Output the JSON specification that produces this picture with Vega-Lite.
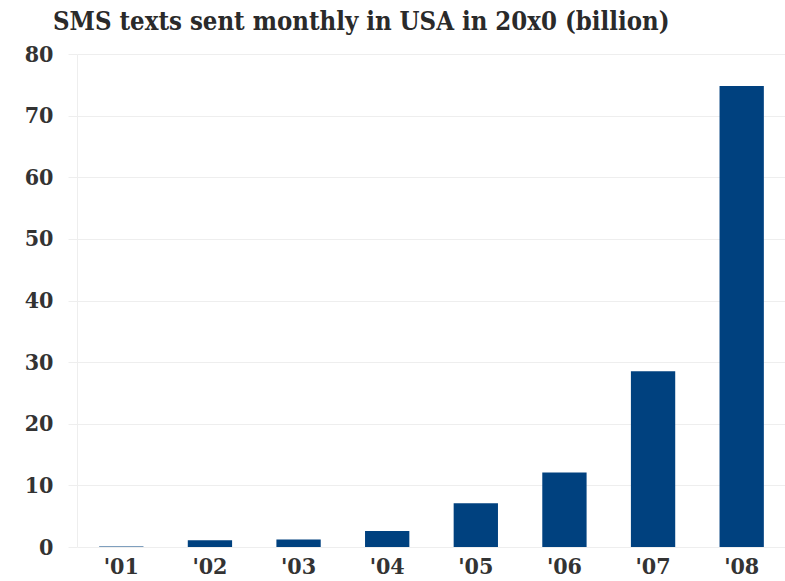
{
  "$schema": "https://vega.github.io/schema/vega-lite/v6.json",
  "width": 709,
  "height": 493,
  "autosize": "none",
  "padding": {"left": 77, "top": 54, "right": 0, "bottom": 34},
  "background": "white",
  "title": {
    "text": "SMS texts sent monthly in USA in 20x0 (billion)",
    "anchor": "start",
    "frame": "group",
    "dx": -24,
    "offset": 8,
    "font": "DejaVu Serif Condensed",
    "fontSize": 25.5,
    "fontWeight": "bold",
    "color": "#2a2a2a"
  },
  "data": {
    "values": [
      {"year": "'01", "texts": 0.1},
      {"year": "'02", "texts": 1.1},
      {"year": "'03", "texts": 1.2},
      {"year": "'04", "texts": 2.6},
      {"year": "'05", "texts": 7.1},
      {"year": "'06", "texts": 12.1},
      {"year": "'07", "texts": 28.5},
      {"year": "'08", "texts": 74.8}
    ]
  },
  "mark": {"type": "bar", "color": "#00417f"},
  "encoding": {
    "x": {
      "field": "year",
      "type": "ordinal",
      "sort": null,
      "scale": {"paddingInner": 0.5, "paddingOuter": 0.25},
      "axis": {
        "title": null,
        "labelAngle": 0,
        "domain": false,
        "ticks": false,
        "labelPadding": 8,
        "labelFont": "DejaVu Serif Condensed",
        "labelFontSize": 23,
        "labelFontWeight": "bold",
        "labelColor": "#333333"
      }
    },
    "y": {
      "field": "texts",
      "type": "quantitative",
      "scale": {"domain": [0, 80], "nice": false},
      "axis": {
        "title": null,
        "values": [0, 10, 20, 30, 40, 50, 60, 70, 80],
        "grid": true,
        "gridColor": "#eeeeee",
        "domain": true,
        "domainColor": "#eeeeee",
        "ticks": true,
        "tickColor": "#eeeeee",
        "tickSize": 9,
        "labelPadding": 15,
        "labelFont": "DejaVu Serif Condensed",
        "labelFontSize": 23,
        "labelFontWeight": "bold",
        "labelColor": "#333333"
      }
    }
  },
  "config": {"view": {"stroke": null}}
}
